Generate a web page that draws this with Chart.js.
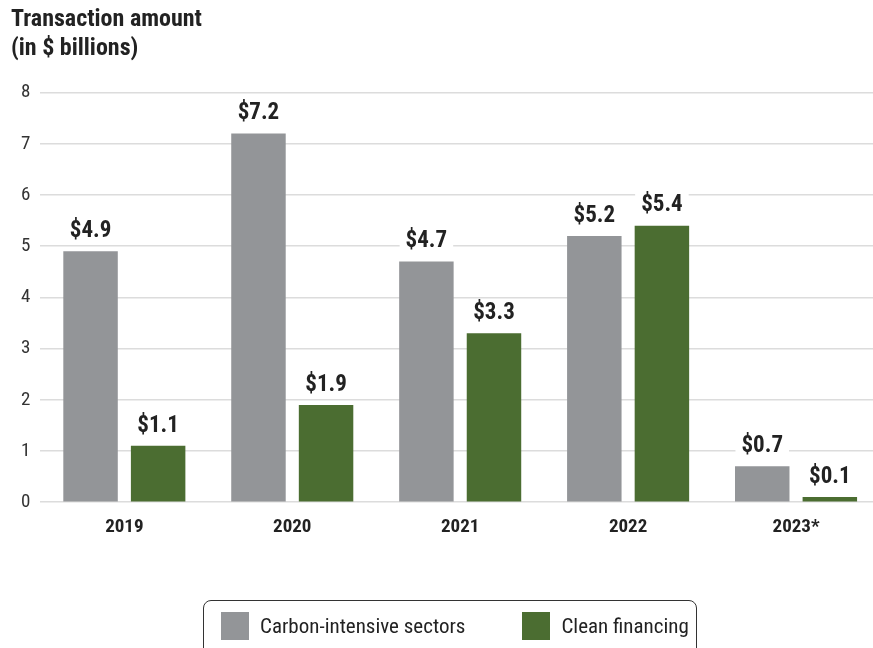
<!DOCTYPE html>
<html>
  <head>
    <meta charset="UTF-8" />
    <title>Transaction amount</title>
    <style>
      body {
        margin: 0;
        padding: 0;
        background: #fff;
        font-family: "Roboto Condensed", "Liberation Sans Narrow", Roboto, sans-serif;
      }
      .wrap {
        position: relative;
        width: 873px;
        height: 648px;
        overflow: hidden;
      }
      .legend {
        position: absolute;
        left: 203px;
        top: 600px;
        width: 494px;
        height: 56px;
        border: 1.5px solid #333;
        border-radius: 8px;
        box-sizing: border-box;
        display: flex;
        align-items: center;
        padding-left: 17px;
        padding-bottom: 4px;
        font-size: 21px;
        color: #222;
      }
      .legend .sw {
        display: inline-block;
        width: 28px;
        height: 28px;
        margin-right: 11px;
      }
      .legend .item {
        display: flex;
        align-items: center;
      }
    </style>
  </head>
  <body>
    <div class="wrap">
      <canvas id="chart" width="880" height="648"></canvas>
      <div class="legend">
        <div class="item"><span class="sw" style="background:#939598"></span>Carbon-intensive sectors</div>
        <div class="item" style="margin-left:57px"><span class="sw" style="background:#4b6d31"></span>Clean financing</div>
      </div>
    </div>

    <script src="https://cdn.jsdelivr.net/npm/chart.js"></script>
    <script>
      const years = ["2019", "2020", "2021", "2022", "2023*"];
      const carbonValues = [4.9, 7.2, 4.7, 5.2, 0.7];
      const cleanValues = [1.1, 1.9, 3.3, 5.4, 0.1];
      const yTicks = [0, 1, 2, 3, 4, 5, 6, 7, 8];

      const FONT = "'Roboto Condensed', 'Liberation Sans Narrow', Roboto, sans-serif";

      // value labels with white box above each bar
      const valueLabels = {
        id: "valueLabels",
        afterDatasetsDraw(chart) {
          const ctx = chart.ctx;
          ctx.save();
          ctx.font = "bold 23px " + FONT;
          ctx.textAlign = "center";
          ctx.textBaseline = "middle";
          chart.data.datasets.forEach((ds, di) => {
            const meta = chart.getDatasetMeta(di);
            meta.data.forEach((bar, i) => {
              const txt = "$" + ds.data[i].toFixed(1);
              const w = ctx.measureText(txt).width + 12;
              const y = bar.y - 20;
              ctx.fillStyle = "#fff";
              ctx.fillRect(bar.x - w / 2, y - 13, w, 26);
              ctx.fillStyle = "#222";
              ctx.fillText(txt, bar.x, y);
            });
          });
          ctx.restore();
        },
      };

      new Chart(document.getElementById("chart"), {
        type: "bar",
        data: {
          labels: years,
          datasets: [
            {
              label: "Carbon-intensive sectors",
              data: carbonValues,
              backgroundColor: "#939598",
              categoryPercentage: 0.805,
              barPercentage: 0.806,
            },
            {
              label: "Clean financing",
              data: cleanValues,
              backgroundColor: "#4b6d31",
              categoryPercentage: 0.805,
              barPercentage: 0.806,
            },
          ],
        },
        options: {
          responsive: false,
          animation: false,
          layout: { padding: { left: 11, right: 0, top: 5, bottom: 103 } },
          plugins: {
            legend: { display: false },
            tooltip: { enabled: false },
            title: {
              display: true,
              text: ["Transaction amount", "(in $ billions)"],
              align: "start",
              color: "#222",
              font: { family: FONT, size: 24, weight: "bold", lineHeight: 1.22 },
              padding: { top: 0, bottom: 29 },
            },
          },
          scales: {
            x: {
              grid: { display: false },
              border: { display: false },
              ticks: {
                color: "#222",
                font: { family: FONT, size: 19, weight: "bold" },
                padding: 6,
              },
            },
            y: {
              min: 0,
              max: 8,
              afterBuildTicks(axis) {
                axis.ticks = yTicks.map((v) => ({ value: v }));
              },
              grid: { color: "#dcdcdc", lineWidth: 1.5, drawTicks: false },
              border: { display: false },
              ticks: {
                color: "#333",
                font: { family: FONT, size: 19 },
                padding: 10,
              },
            },
          },
        },
        plugins: [valueLabels],
      });
    </script>
  </body>
</html>
